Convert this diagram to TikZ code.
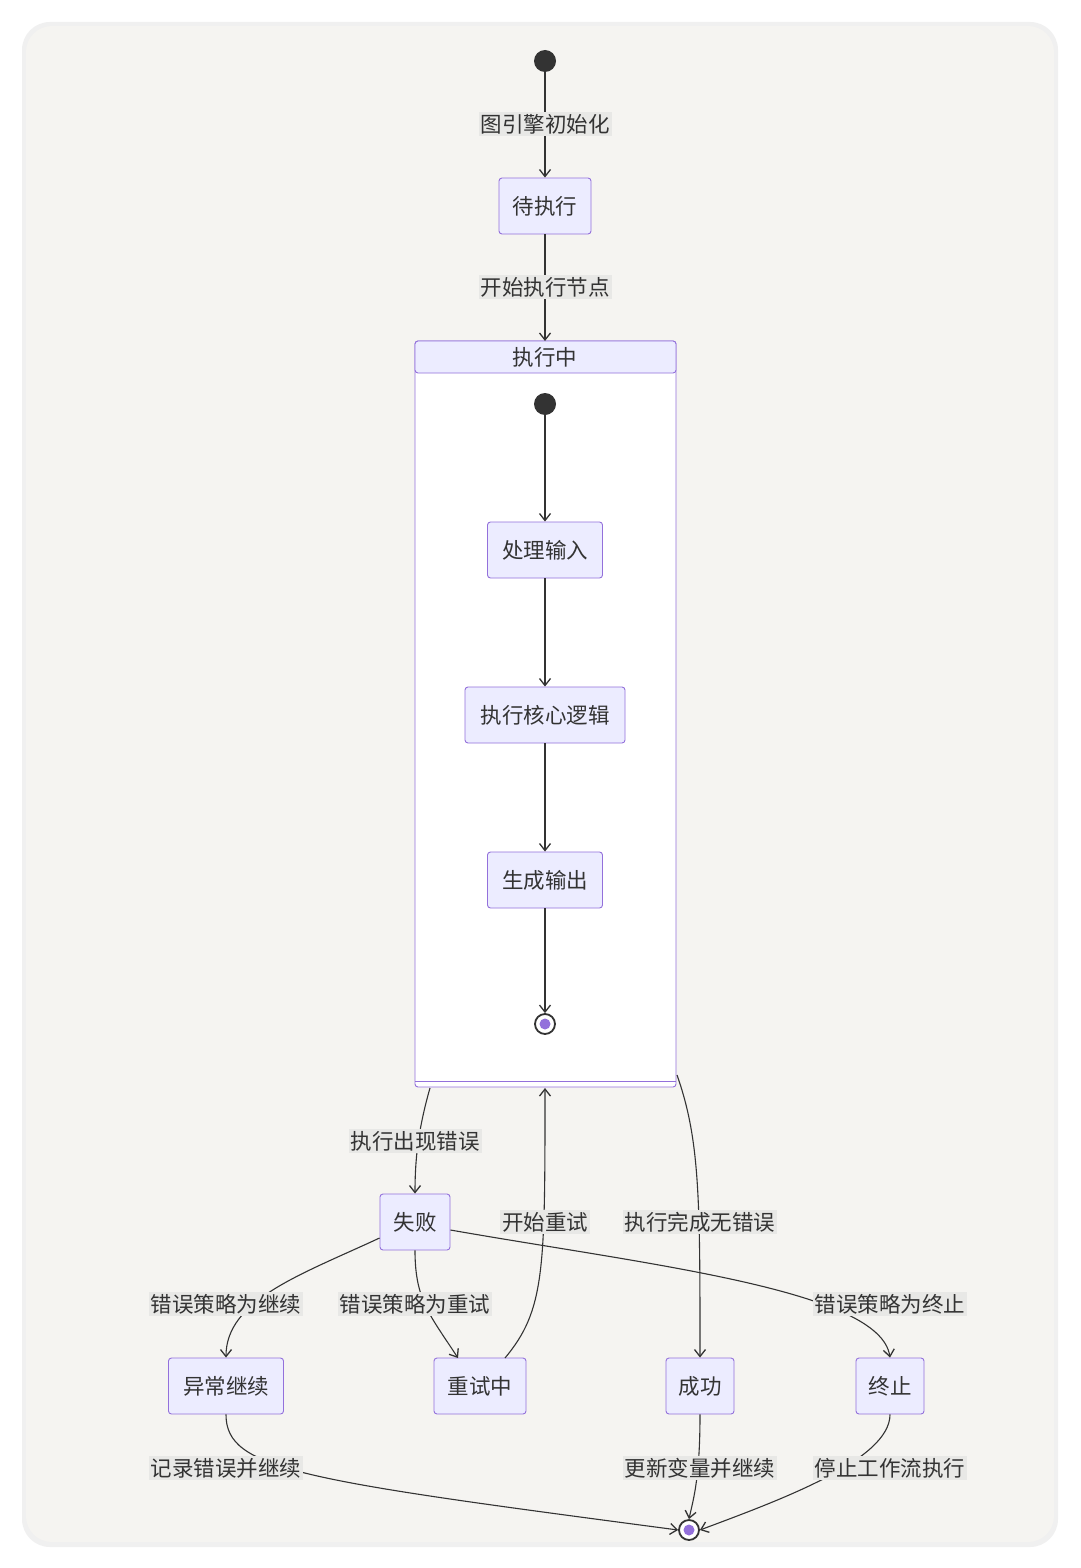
\documentclass[tikz,border=0pt]{standalone}
\usepackage{fontspec}
\setmainfont{Noto Sans CJK SC}
\usetikzlibrary{arrows.meta}
\definecolor{cardbg}{HTML}{F5F4F1}
\definecolor{nfill}{HTML}{ECECFF}
\definecolor{nline}{HTML}{9370DB}
\definecolor{eline}{HTML}{333333}
\definecolor{lbg}{HTML}{E8E8E6}
\begin{document}
\begin{tikzpicture}[x=1pt,y=-1pt,
  st/.style={draw=nline,fill=nfill,rounded corners=3pt,line width=0.9pt,minimum height=56pt,font=\fontsize{21.5}{24}\selectfont,text=eline},
  lb/.style={fill=lbg,inner sep=2pt,font=\fontsize{21.5}{24}\selectfont,text=eline},
  ed/.style={draw=eline,line width=1.1pt,-{Straight Barb[length=7pt,width=11pt,line width=1.3pt]}},
  dot/.style={circle,fill=eline,minimum size=22pt,inner sep=0pt},
  fin/.style={circle,draw=eline,line width=1.8pt,fill=white,minimum size=20pt,inner sep=0pt,path picture={\fill[nline] (path picture bounding box.center) circle (5.5pt);}}]
\useasboundingbox (0,0) rectangle (1080,1568);
\fill[white] (0,0) rectangle (1080,1568);
\fill[black!6,rounded corners=28pt] (22,22) rectangle (1058,1547);
\fill[cardbg,rounded corners=26pt] (26,26) rectangle (1054,1542);
% composite
\draw[nline,line width=0.9pt,fill=white,rounded corners=3pt] (415,341) rectangle (676,1087);
\draw[nline,line width=0.9pt,fill=nfill,rounded corners=3pt] (415,341) -- (676,341) -- (676,373) -- (415,373) -- cycle;
\draw[nline,line width=0.9pt] (415,1081) -- (676,1081);
\node[font=\fontsize{21.5}{24}\selectfont,text=eline] (comp) at (545,357) {执行中};
\coordinate (compt) at (545,341);
\coordinate (compbl) at (430,1088);
\coordinate (compb) at (545,1088);
\coordinate (compbr) at (677,1075);
% nodes
\node[dot] (s0) at (545,61) {};
\node[st,minimum width=92pt] (wait) at (545,206) {待执行};
\node[dot] (s1) at (545,404) {};
\node[st,minimum width=115pt] (in) at (545,550) {处理输入};
\node[st,minimum width=160pt] (core) at (545,715) {执行核心逻辑};
\node[st,minimum width=115pt] (out) at (545,880) {生成输出};
\node[fin] (e1) at (545,1024) {};
\node[st,minimum width=70pt] (fail) at (415,1222) {失败};
\node[st,minimum width=115pt] (cont) at (226,1386) {异常继续};
\node[st,minimum width=92pt] (retry) at (480,1386) {重试中};
\node[st,minimum width=68pt] (ok) at (700,1386) {成功};
\node[st,minimum width=68pt] (stop) at (890,1386) {终止};
\node[fin] (e2) at (689,1530) {};
\coordinate (rtin) at (458,1358);
\coordinate (rtout) at (505,1358);
% edges
\draw[ed] (s0) -- (wait);
\draw[ed] (wait) -- (compt);
\draw[ed] (s1) -- (in);
\draw[ed] (in) -- (core);
\draw[ed] (core) -- (out);
\draw[ed] (out) -- (e1);
\draw[ed] (compbl) .. controls (418,1130) and (415,1160) .. (fail.north);
\draw[ed] (rtout) .. controls (545,1310) and (545,1270) .. (compb);
\draw[ed] (compbr) .. controls (700,1140) and (700,1200) .. (ok.north);
\draw[ed] (fail.west) ++(0,16) .. controls (300,1275) and (226,1300) .. (cont.north);
\draw[ed] (fail.south) .. controls (415,1300) and (430,1315) .. (rtin);
\draw[ed] (fail.east) ++(0,8) .. controls (650,1265) and (880,1290) .. (stop.north);
\draw[ed] (cont.south) .. controls (226,1470) and (300,1480) .. (e2.west);
\draw[ed] (ok.south) .. controls (700,1480) and (693,1500) .. (e2.north);
\draw[ed] (stop.south) .. controls (890,1460) and (780,1500) .. (e2.east);
% labels
\node[lb] at (545,124) {图引擎初始化};
\node[lb] at (545,287) {开始执行节点};
\node[lb] at (415,1141) {执行出现错误};
\node[lb] at (545,1222) {开始重试};
\node[lb] at (700,1222) {执行完成无错误};
\node[lb] at (226,1304) {错误策略为继续};
\node[lb] at (415,1304) {错误策略为重试};
\node[lb] at (890,1304) {错误策略为终止};
\node[lb] at (226,1468) {记录错误并继续};
\node[lb] at (700,1468) {更新变量并继续};
\node[lb] at (890,1468) {停止工作流执行};
\end{tikzpicture}
\end{document}
